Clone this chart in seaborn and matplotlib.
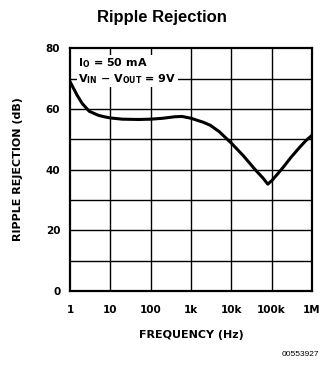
import matplotlib
matplotlib.use("Agg")
import matplotlib.pyplot as plt
import seaborn as sns
import pandas as pd

# Ripple rejection vs. frequency
freq_hz = [1, 1.5, 2, 3, 5, 7, 10, 20, 50, 100, 200, 400, 600, 1000, 2000,
           3000, 5000, 10000, 20000, 40000, 60000, 80000, 100000, 150000,
           200000, 300000, 500000, 700000, 1000000]
rejection_db = [69, 64.5, 61.8, 59.2, 57.9, 57.4, 57.0, 56.6, 56.5, 56.6, 56.9,
                57.4, 57.5, 56.9, 55.6, 54.6, 52.5, 48.7, 44.5, 39.8, 37.3,
                35.2, 36.3, 39.0, 41.0, 44.0, 47.4, 49.5, 51.3]

x_ticks = [1, 10, 100, 1e3, 1e4, 1e5, 1e6]
x_tick_labels = ["1", "10", "100", "1k", "10k", "100k", "1M"]
y_ticks = [0, 20, 40, 60, 80]

df = pd.DataFrame({"freq": freq_hz, "rej": rejection_db})

sns.set_theme(style="white")
font = ["Liberation Sans Narrow", "DejaVu Sans"]
plt.rcParams["font.family"] = font
plt.rcParams["text.color"] = "black"
plt.rcParams["mathtext.fontset"] = "custom"
plt.rcParams["mathtext.rm"] = "Liberation Sans Narrow:bold"

fig = plt.figure(figsize=(3.24, 3.65), dpi=100)
ax = fig.add_axes([0.216, 0.203, 0.747, 0.665])

sns.lineplot(data=df, x="freq", y="rej", ax=ax, color="black", linewidth=2.2)

ax.set_xscale("log")
ax.set_xlim(1, 1e6)
ax.set_ylim(0, 80)

# grid: every decade and every 10 dB
for xv in x_ticks[1:-1]:
    ax.axvline(xv, color="black", linewidth=1.0, zorder=0)
for yv in range(10, 80, 10):
    ax.axhline(yv, color="black", linewidth=1.0, zorder=0)

ax.set_xticks(x_ticks)
ax.set_xticklabels(x_tick_labels)
ax.set_yticks(y_ticks)
ax.minorticks_off()
ax.tick_params(axis="both", length=0, labelsize=7.5, labelcolor="black")
ax.tick_params(axis="x", pad=10)
ax.tick_params(axis="y", pad=7)
for lab in ax.get_xticklabels() + ax.get_yticklabels():
    lab.set_fontweight("bold")

for s in ax.spines.values():
    s.set_color("black")
    s.set_linewidth(1.6)

ax.set_xlabel("FREQUENCY (Hz)", fontsize=8, fontweight="bold", labelpad=11,
              color="black")
ax.set_ylabel("RIPPLE REJECTION (dB)", fontsize=8, fontweight="bold",
              labelpad=16, color="black")

fig.text(0.5, 0.952, "Ripple Rejection", ha="center", va="center",
         fontsize=12, fontweight="bold", color="black",
         family=["Liberation Sans", "DejaVu Sans"])

ax.text(0.035, 0.965, r"$\mathrm{I_O}$ = 50 mA" + "\n" +
        r"$\mathrm{V_{IN}}$ $-$ $\mathrm{V_{OUT}}$ = 9V",
        transform=ax.transAxes, ha="left", va="top", fontsize=8,
        fontweight="bold", linespacing=1.15,
        bbox=dict(facecolor="white", edgecolor="none", pad=1.0), zorder=3)

fig.text(0.985, 0.03, "00553927", ha="right", va="center", fontsize=6,
         color="black", family=["Liberation Sans", "DejaVu Sans"])

fig.savefig("out.png", dpi=100, facecolor="white")
